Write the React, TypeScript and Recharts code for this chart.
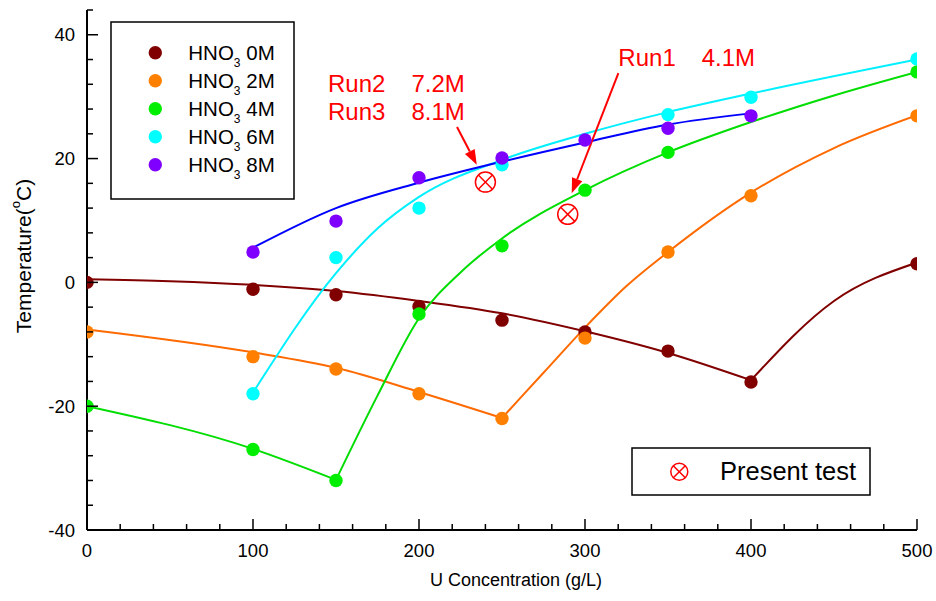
import React from "react";
import {
  ComposedChart,
  Line,
  Scatter,
  XAxis,
  YAxis,
  ReferenceLine,
  Legend,
} from "recharts";

const FONT = '"Liberation Sans", Arial, Helvetica, sans-serif';

const seriesNames = ["0M", "2M", "4M", "6M", "8M"];
const dotColors = ["#800000", "#ff8000", "#00ee00", "#00ffff", "#8000ff"];
const lineColors = ["#800000", "#ff6a00", "#00dd00", "#00f0ff", "#0000ff"];

// measured points, U (g/L) vs temperature (C)
const points0M = [
  { x: 0, y: 0 }, { x: 100, y: -1.1 }, { x: 150, y: -2.0 }, { x: 200, y: -3.9 },
  { x: 250, y: -6.1 }, { x: 300, y: -8.0 }, { x: 350, y: -11.1 }, { x: 400, y: -16.1 },
  { x: 500, y: 3.0 },
];
const points2M = [
  { x: 0, y: -8 }, { x: 100, y: -12 }, { x: 150, y: -14 }, { x: 200, y: -18 },
  { x: 250, y: -22 }, { x: 300, y: -9 }, { x: 350, y: 4.9 }, { x: 400, y: 14 },
  { x: 500, y: 26.9 },
];
const points4M = [
  { x: 0, y: -20 }, { x: 100, y: -27 }, { x: 150, y: -32 }, { x: 200, y: -5.1 },
  { x: 250, y: 5.9 }, { x: 300, y: 14.9 }, { x: 350, y: 21 }, { x: 500, y: 34 },
];
const points6M = [
  { x: 100, y: -18 }, { x: 150, y: 4 }, { x: 200, y: 12 }, { x: 250, y: 19 },
  { x: 350, y: 27.1 }, { x: 400, y: 29.9 }, { x: 500, y: 36.1 },
];
const points8M = [
  { x: 100, y: 4.9 }, { x: 150, y: 9.9 }, { x: 200, y: 16.9 }, { x: 250, y: 20.1 },
  { x: 300, y: 23 }, { x: 350, y: 24.9 }, { x: 400, y: 26.9 },
];
const pointSets = [points0M, points2M, points4M, points6M, points8M];

// fitted curves
const curve0Ma = [
  { x: 0, y: 0.5 }, { x: 50, y: 0.2 }, { x: 100, y: -0.4 }, { x: 150, y: -1.4 },
  { x: 200, y: -3.0 }, { x: 250, y: -5.0 }, { x: 300, y: -7.9 }, { x: 350, y: -11.4 },
  { x: 400, y: -15.8 },
];
const curve0Mb = [{ x: 400, y: -15.8 }, { x: 450, y: -3.0 }, { x: 500, y: 3.2 }];
const curve2Ma = [
  { x: 0, y: -7.6 }, { x: 100, y: -11.3 }, { x: 150, y: -13.8 }, { x: 200, y: -17.7 },
  { x: 250, y: -21.9 },
];
const curve2Mb = [
  { x: 250, y: -21.9 }, { x: 275, y: -14.6 }, { x: 300, y: -7.3 }, { x: 325, y: -0.6 },
  { x: 350, y: 4.9 }, { x: 400, y: 14.5 }, { x: 450, y: 21.7 }, { x: 500, y: 27 },
];
const curve4Ma = [{ x: 0, y: -20 }, { x: 100, y: -26.9 }, { x: 150, y: -31.9 }];
const curve4Mb = [
  { x: 150, y: -31.9 }, { x: 175, y: -18.3 }, { x: 200, y: -5.8 }, { x: 225, y: 1.6 },
  { x: 250, y: 7.1 }, { x: 300, y: 14.9 }, { x: 350, y: 21 }, { x: 400, y: 25.9 },
  { x: 450, y: 30.2 }, { x: 500, y: 34 },
];
const curve6M = [
  { x: 100, y: -17.8 }, { x: 150, y: 1.5 }, { x: 175, y: 8.7 }, { x: 200, y: 13.8 },
  { x: 250, y: 19.8 }, { x: 300, y: 24 }, { x: 350, y: 27.5 }, { x: 400, y: 30.5 },
  { x: 500, y: 36 },
];
const curve8M = [
  { x: 100, y: 5.6 }, { x: 150, y: 12 }, { x: 200, y: 16.1 }, { x: 250, y: 19.5 },
  { x: 300, y: 22.6 }, { x: 350, y: 25.5 }, { x: 400, y: 27.3 },
];
const curves = [
  { data: curve0Ma, s: 0, type: "monotone" }, { data: curve0Mb, s: 0, type: "natural" },
  { data: curve2Ma, s: 1, type: "monotone" }, { data: curve2Mb, s: 1, type: "monotone" },
  { data: curve4Ma, s: 2, type: "monotone" }, { data: curve4Mb, s: 2, type: "monotone" },
  { data: curve6M, s: 3, type: "monotone" }, { data: curve8M, s: 4, type: "monotone" },
];

const presentTest = [{ x: 240, y: 16.2 }, { x: 289.6, y: 11.0 }];

const runLabels = [
  { x: 145.2, y: 30.7, run: "Run2", conc: "7.2M" },
  { x: 145.2, y: 26.3, run: "Run3", conc: "8.1M" },
  { x: 320.1, y: 35.0, run: "Run1", conc: "4.1M" },
];
const arrows = [
  { from: { x: 222.9, y: 25.1 }, to: { x: 234.8, y: 19.0 } },
  { from: { x: 320.1, y: 33.8 }, to: { x: 292.0, y: 14.4 } },
];

const xTicks = [0, 20, 40, 60, 80, 100, 120, 140, 160, 180, 200, 220, 240, 260, 280, 300,
  320, 340, 360, 380, 400, 420, 440, 460, 480, 500];
const yTicks = [-40, -36, -32, -28, -24, -20, -16, -12, -8, -4, 0, 4, 8, 12, 16, 20, 24,
  28, 32, 36, 40, 44];

const TICK_FONT = 18.5;

const BottomTick = ({ x, y, payload }: any) => {
  const major = payload.value % 100 === 0;
  return (
    <g>
      <line x1={x} y1={y} x2={x} y2={y - (major ? 11 : 6)} stroke="#000" strokeWidth={1.5} />
      {major && (
        <text x={x} y={y + 27} textAnchor="middle" fontSize={TICK_FONT} fontFamily={FONT} fill="#000">
          {payload.value}
        </text>
      )}
    </g>
  );
};
const TopTick = ({ x, y, payload }: any) => {
  const major = payload.value % 100 === 0;
  return <line x1={x} y1={y} x2={x} y2={y + (major ? 11 : 6)} stroke="#000" strokeWidth={1.5} />;
};
const LeftTick = ({ x, y, payload }: any) => {
  const major = payload.value % 20 === 0;
  return (
    <g>
      <line x1={x} y1={y} x2={x + (major ? 11 : 6)} y2={y} stroke="#000" strokeWidth={1.5} />
      {major && (
        <text x={x - 12} y={y + 6.5} textAnchor="end" fontSize={TICK_FONT} fontFamily={FONT} fill="#000">
          {payload.value}
        </text>
      )}
    </g>
  );
};
const RightTick = ({ x, y, payload }: any) => {
  const major = payload.value % 20 === 0;
  return <line x1={x} y1={y} x2={x - (major ? 11 : 6)} y2={y} stroke="#000" strokeWidth={1.5} />;
};

const CrossCircle = ({ cx, cy, r }: { cx: number; cy: number; r: number }) => {
  const d = r * 0.7071;
  return (
    <g stroke="#ff0000" strokeWidth={1.5} fill="none">
      <circle cx={cx} cy={cy} r={r} />
      <line x1={cx - d} y1={cy - d} x2={cx + d} y2={cy + d} />
      <line x1={cx - d} y1={cy + d} x2={cx + d} y2={cy - d} />
    </g>
  );
};

const Arrow = (p: any) => {
  const { x1, y1, x2, y2 } = p;
  const dx = x2 - x1;
  const dy = y2 - y1;
  const len = Math.hypot(dx, dy) || 1;
  const ux = dx / len;
  const uy = dy / len;
  const hl = 15;
  const hw = 5.5;
  const bx = x2 - ux * hl;
  const by = y2 - uy * hl;
  return (
    <g>
      <line x1={x1} y1={y1} x2={bx} y2={by} stroke="#ff0000" strokeWidth={2} />
      <polygon
        points={`${x2},${y2} ${bx - uy * hw},${by + ux * hw} ${bx + uy * hw},${by - ux * hw}`}
        fill="#ff0000"
      />
    </g>
  );
};

const RunText = (p: any) => {
  const { cx, cy, payload } = p;
  return (
    <text x={cx} y={cy} fontSize={24} fontFamily={FONT} fill="#ff0000">
      <tspan>{payload.run}</tspan>
      <tspan dx={26}>{payload.conc}</tspan>
    </text>
  );
};

const LegendBoxes = () => (
  <svg width={936} height={601} style={{ position: "absolute", left: 0, top: 0 }}>
    <rect x={111} y={22} width={183} height={177} fill="#fff" stroke="#000" strokeWidth={1.5} />
    {seriesNames.map((n, i) => (
      <g key={n}>
        <circle cx={155.3} cy={52.7 + i * 28} r={6.7} fill={dotColors[i]} />
        <text x={188.3} y={60 + i * 28} fontSize={20.5} fontFamily={FONT} fill="#000">
          HNO
          <tspan fontSize={12} dy={7}>3</tspan>
          <tspan dy={-7}> {n}</tspan>
        </text>
      </g>
    ))}
    <rect x={632} y={448} width={238} height={47} fill="#fff" stroke="#000" strokeWidth={1.5} />
    <CrossCircle cx={679.3} cy={471.7} r={8.5} />
    <text x={720} y={480} fontSize={25.5} fontFamily={FONT} fill="#000">Present test</text>
  </svg>
);

const YTitle = (p: any) => {
  const vb = p.viewBox;
  const cx = vb.x + 23;
  const cy = vb.y + vb.height / 2 - 14;
  return (
    <text
      x={cx}
      y={cy}
      transform={`rotate(-90 ${cx} ${cy})`}
      textAnchor="middle"
      dominantBaseline="central"
      fontSize={21}
      fontFamily={FONT}
      fill="#000"
    >
      Temperature(
      <tspan fontSize={13} dy={-8}>o</tspan>
      <tspan dy={8}>C)</tspan>
    </text>
  );
};

const XTitle = (p: any) => {
  const vb = p.viewBox;
  return (
    <text
      x={vb.x + vb.width / 2 + 14}
      y={vb.y + 56}
      textAnchor="middle"
      fontSize={18}
      fontFamily={FONT}
      fill="#000"
    >
      U Concentration (g/L)
    </text>
  );
};

export default function App() {
  return (
    <div style={{ position: "fixed", left: 0, top: 0, width: 936, height: 601, background: "#fff" }}>
      <ComposedChart width={936} height={601} margin={{ top: 10, right: 19, bottom: 0, left: 0 }}>
        <XAxis
          dataKey="x"
          type="number"
          domain={[0, 500]}
          allowDataOverflow
          ticks={xTicks}
          interval={0}
          height={71}
          tickSize={0}
          tickMargin={0}
          tickLine={false}
          tick={<BottomTick />}
          axisLine={{ stroke: "#000", strokeWidth: 2 }}
          label={{ content: XTitle }}
        />
        <XAxis
          xAxisId="top"
          orientation="top"
          dataKey="x"
          type="number"
          domain={[0, 500]}
          allowDataOverflow
          ticks={xTicks}
          interval={0}
          height={0}
          tickSize={0}
          tickMargin={0}
          tickLine={false}
          tick={<TopTick />}
          axisLine={{ stroke: "#000", strokeWidth: 2 }}
        />
        <YAxis
          dataKey="y"
          type="number"
          domain={[-40, 44]}
          allowDataOverflow
          ticks={yTicks}
          interval={0}
          width={87}
          tickSize={0}
          tickMargin={0}
          tickLine={false}
          tick={<LeftTick />}
          axisLine={{ stroke: "#000", strokeWidth: 2 }}
          label={{ content: YTitle }}
        />
        <YAxis
          yAxisId="right"
          orientation="right"
          dataKey="y"
          type="number"
          domain={[-40, 44]}
          allowDataOverflow
          ticks={yTicks}
          interval={0}
          width={0}
          tickSize={0}
          tickMargin={0}
          tickLine={false}
          tick={<RightTick />}
          axisLine={{ stroke: "#000", strokeWidth: 2 }}
        />
        {curves.map((c, i) => (
          <Line
            key={`c${i}`}
            data={c.data}
            dataKey="y"
            type={c.type as any}
            stroke={lineColors[c.s]}
            strokeWidth={2}
            dot={false}
            activeDot={false}
            legendType="none"
            isAnimationActive={false}
          />
        ))}
        {pointSets.map((pts, i) => (
          <Scatter
            key={`p${i}`}
            name={`HNO3 ${seriesNames[i]}`}
            data={pts}
            isAnimationActive={false}
            shape={(p: any) => <circle cx={p.cx} cy={p.cy} r={6.7} fill={dotColors[i]} />}
          />
        ))}
        <Scatter
          name="Present test"
          data={presentTest}
          isAnimationActive={false}
          shape={(p: any) => <CrossCircle cx={p.cx} cy={p.cy} r={10} />}
        />
        {arrows.map((a, i) => (
          <ReferenceLine key={`a${i}`} segment={[a.from, a.to]} shape={Arrow} />
        ))}
        <Scatter data={runLabels} isAnimationActive={false} legendType="none" shape={RunText} />
        <Legend
          layout="vertical"
          align="center"
          verticalAlign="middle"
          wrapperStyle={{ left: 0, top: 0, width: 936, height: 601, pointerEvents: "none" }}
          content={() => <LegendBoxes />}
        />
      </ComposedChart>
    </div>
  );
}
